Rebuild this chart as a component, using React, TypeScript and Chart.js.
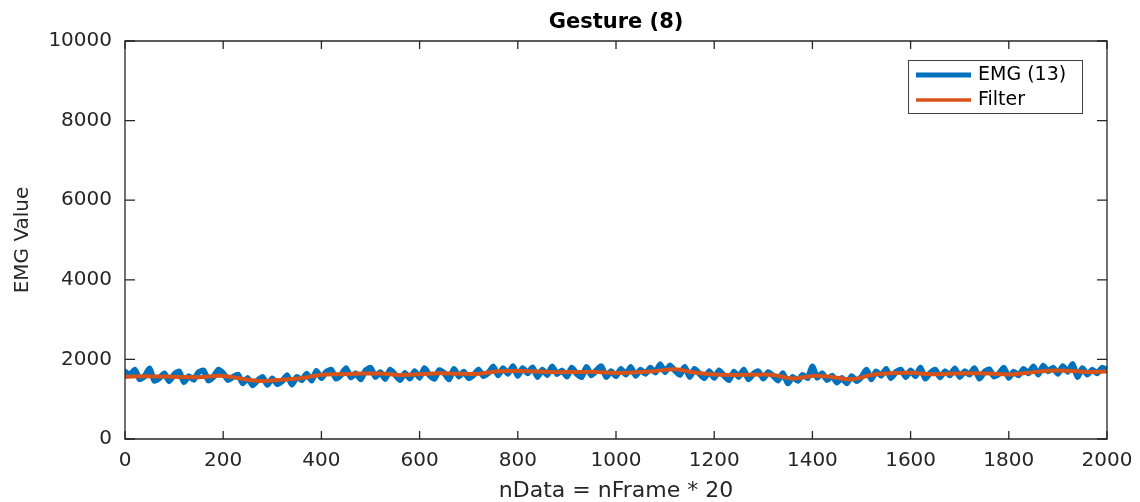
import React, { useEffect, useRef } from "react";
import { Chart, registerables } from "chart.js";

Chart.register(...registerables);

// ---- data ----
const chartTitle = "Gesture (8)";
const xTitle = "nData = nFrame * 20";
const yTitle = "EMG Value";
const seriesLabels = ["EMG (13)", "Filter"];
const xTickValues = [0, 200, 400, 600, 800, 1000, 1200, 1400, 1600, 1800, 2000];
const yTickValues = [0, 2000, 4000, 6000, 8000, 10000];

// raw EMG, one sample every 10 units (0..2000)
const emgStep = 10;
const emgValues = [
  1690, 1610, 1740, 1500, 1580, 1770, 1460, 1530, 1650, 1450,
  1620, 1700, 1430, 1580, 1490, 1680, 1720, 1470, 1560, 1740,
  1650, 1480, 1560, 1620, 1400, 1530, 1350, 1470, 1560, 1360,
  1520, 1380, 1450, 1600, 1370, 1560, 1480, 1640, 1470, 1710,
  1530, 1690, 1740, 1520, 1610, 1780, 1550, 1650, 1500, 1720,
  1790, 1560, 1680, 1510, 1740, 1620, 1480, 1660, 1520, 1700,
  1540, 1780, 1600, 1510, 1730, 1660, 1500, 1760, 1570, 1690,
  1530, 1610, 1740, 1580, 1660, 1820, 1600, 1780, 1640, 1830,
  1590, 1780, 1650, 1800, 1560, 1740, 1610, 1820, 1630, 1720,
  1570, 1790, 1640, 1560, 1810, 1600, 1720, 1830, 1560, 1700,
  1580, 1760, 1620, 1810, 1590, 1740, 1640, 1790, 1670, 1880,
  1680, 1850, 1720, 1610, 1810, 1560, 1760, 1640, 1530, 1700,
  1540, 1720, 1590, 1480, 1690, 1560, 1740, 1500, 1640, 1700,
  1520, 1680, 1590, 1470, 1650, 1400, 1560, 1460, 1610, 1530,
  1820, 1540, 1650, 1480, 1590, 1420, 1530, 1400, 1580, 1460,
  1560, 1740, 1500, 1700, 1590, 1760, 1530, 1680, 1740, 1560,
  1720, 1580, 1790, 1520, 1660, 1740, 1550, 1700, 1600, 1770,
  1560, 1700, 1620, 1780, 1520, 1680, 1750, 1570, 1640, 1790,
  1540, 1690, 1600, 1760, 1650, 1820, 1620, 1840, 1700, 1790,
  1640, 1830, 1690, 1880, 1560, 1780, 1620, 1740, 1650, 1790,
  1740,
];

// filtered signal, one sample every 40 units (0..2000)
const filterStep = 40;
const filterValues = [
  1565, 1578, 1570, 1555, 1560, 1585, 1510, 1458, 1490, 1530,
  1615, 1630, 1645, 1645, 1610, 1625, 1650, 1640, 1640, 1700,
  1710, 1695, 1680, 1685, 1685, 1660, 1675, 1710, 1750, 1670,
  1620, 1610, 1615, 1610, 1520, 1585, 1560, 1500, 1610, 1650,
  1665, 1625, 1640, 1650, 1645, 1620, 1665, 1715, 1715, 1685,
  1695,
];

const BLUE = "#0072BD";
const ORANGE = "#D95319";
const AXIS = "#262626";
const FONT = "'DejaVu Sans', 'Liberation Sans', Arial, sans-serif";

const framePlugin = {
  id: "matlabFrame",
  afterDraw(chart: any) {
    const { ctx, chartArea } = chart;
    const { left, right, top, bottom } = chartArea;
    const xs = chart.scales.x;
    const ys = chart.scales.y;
    ctx.save();
    ctx.strokeStyle = AXIS;
    ctx.lineWidth = 1.3;
    ctx.beginPath();
    ctx.rect(left, top, right - left, bottom - top);
    ctx.stroke();
    ctx.beginPath();
    xTickValues.forEach((v) => {
      const px = xs.getPixelForValue(v);
      ctx.moveTo(px, bottom);
      ctx.lineTo(px, bottom - 8);
      ctx.moveTo(px, top);
      ctx.lineTo(px, top + 8);
    });
    yTickValues.forEach((v) => {
      const py = ys.getPixelForValue(v);
      ctx.moveTo(left, py);
      ctx.lineTo(left + 10, py);
      ctx.moveTo(right, py);
      ctx.lineTo(right - 10, py);
    });
    ctx.stroke();

    // legend box (top-right, inside the axes)
    const bx = 908.5, by = 60.5, bw = 174, bh = 53;
    ctx.fillStyle = "#ffffff";
    ctx.fillRect(bx, by, bw, bh);
    ctx.strokeStyle = "#404040";
    ctx.lineWidth = 1;
    ctx.strokeRect(bx, by, bw, bh);
    const rows = [75, 100];
    chart.data.datasets.forEach((ds: any, i: number) => {
      const y = rows[i];
      ctx.beginPath();
      ctx.strokeStyle = ds.borderColor;
      ctx.lineWidth = ds.legendWidth;
      ctx.lineCap = "butt";
      ctx.moveTo(916, y);
      ctx.lineTo(971, y);
      ctx.stroke();
      ctx.fillStyle = "#000000";
      ctx.font = `19px ${FONT}`;
      ctx.textAlign = "left";
      ctx.textBaseline = "middle";
      ctx.fillText(ds.label, 978, y + 0.5);
    });
    ctx.restore();
  },
};

export default function App() {
  const canvasRef = useRef<HTMLCanvasElement | null>(null);

  useEffect(() => {
    document.body.style.margin = "0";
    const canvas = canvasRef.current;
    if (!canvas) return;

    const emgPoints = emgValues.map((v, i) => ({ x: i * emgStep, y: v }));
    const filterPoints = filterValues.map((v, i) => ({ x: i * filterStep, y: v }));

    const chart = new Chart(canvas, {
      type: "line",
      data: {
        datasets: [
          {
            label: seriesLabels[0],
            data: emgPoints,
            borderColor: BLUE,
            backgroundColor: BLUE,
            borderWidth: 6,
            legendWidth: 5,
            order: 1,
            pointRadius: 0,
            tension: 0.15,
            borderJoinStyle: "round",
            borderCapStyle: "round",
          } as any,
          {
            label: seriesLabels[1],
            data: filterPoints,
            borderColor: ORANGE,
            backgroundColor: ORANGE,
            borderWidth: 4,
            legendWidth: 3.5,
            order: 0,
            pointRadius: 0,
            tension: 0.4,
            borderJoinStyle: "round",
          } as any,
        ],
      },
      options: {
        animation: false,
        responsive: false,
        events: [],
        layout: { padding: { left: 0, right: 33, top: 0, bottom: 0 } },
        plugins: {
          legend: { display: false },
          tooltip: { enabled: false },
          title: {
            display: true,
            text: chartTitle,
            fullSize: false,
            color: "#000000",
            font: { family: FONT, size: 21, weight: "bold", lineHeight: 1.2 },
            padding: { top: 10, bottom: 5.8 },
          },
        },
        scales: {
          x: {
            type: "linear",
            min: 0,
            max: 2000,
            afterFit: (scale: any) => {
              scale.height = 63;
              scale.paddingLeft = 0;
              scale.paddingRight = 0;
            },
            afterBuildTicks: (scale: any) => {
              scale.ticks = xTickValues.map((v) => ({ value: v }));
            },
            grid: { display: false, drawTicks: false },
            border: { display: false },
            ticks: {
              color: AXIS,
              padding: 10,
              maxRotation: 0,
              autoSkip: false,
              callback: (v: any) => String(v),
              font: { family: FONT, size: 20, lineHeight: 1.2 },
            },
            title: {
              display: true,
              text: xTitle,
              color: AXIS,
              font: { family: FONT, size: 22, lineHeight: 1 },
              padding: { top: 0, bottom: 0.2 },
            },
          },
          y: {
            type: "linear",
            min: 0,
            max: 10000,
            afterFit: (scale: any) => {
              scale.width = 125;
              scale.paddingTop = 0;
              scale.paddingBottom = 0;
            },
            afterBuildTicks: (scale: any) => {
              scale.ticks = yTickValues.map((v) => ({ value: v }));
            },
            grid: { display: false, drawTicks: false },
            border: { display: false },
            ticks: {
              color: AXIS,
              padding: 13,
              autoSkip: false,
              callback: (v: any) => String(v),
              font: { family: FONT, size: 20, lineHeight: 1.2 },
            },
            title: {
              display: true,
              text: yTitle,
              color: AXIS,
              font: { family: FONT, size: 20, lineHeight: 1.2 },
              padding: { top: 11, bottom: 0 },
            },
          },
        },
      },
      plugins: [framePlugin],
    });

    return () => {
      chart.destroy();
    };
  }, []);

  return (
    <div style={{ width: 1140, height: 502, background: "#ffffff" }}>
      <canvas ref={canvasRef} width={1140} height={502} style={{ display: "block" }} />
    </div>
  );
}
